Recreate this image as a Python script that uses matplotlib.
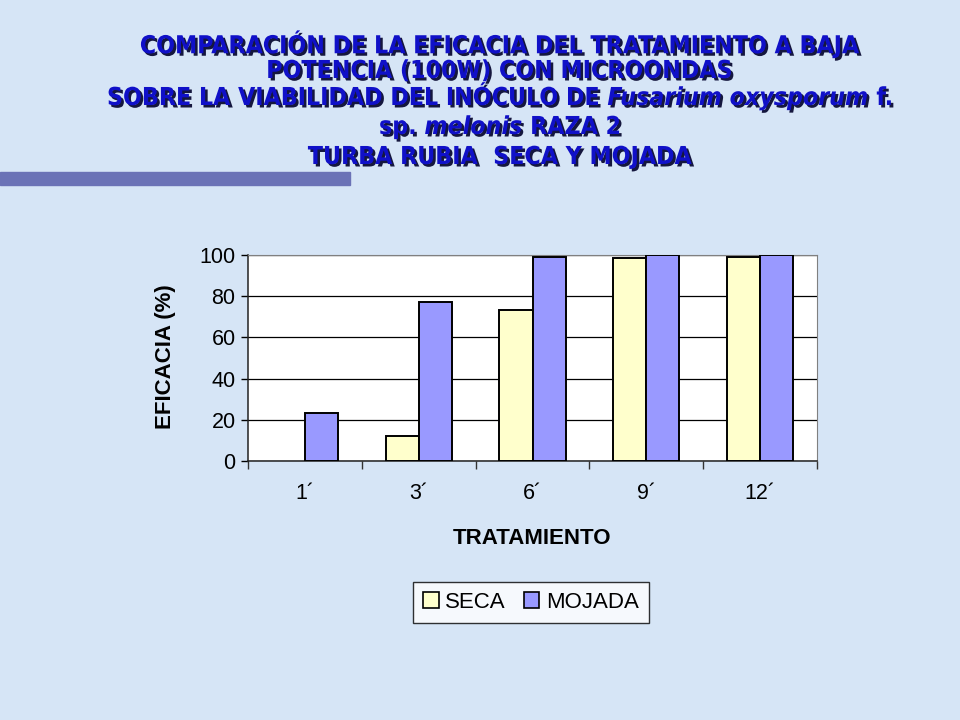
import matplotlib
matplotlib.use("Agg")
import matplotlib.pyplot as plt
import matplotlib.patheffects as pe
from matplotlib.patches import Rectangle, Patch
import numpy as np

# ----------------------------------------------------------------------
# Data
# ----------------------------------------------------------------------
categories = ["1´", "3´", "6´", "9´", "12´"]
seca = [0, 12, 73.5, 98.5, 99]
mojada = [23.5, 77, 99, 100, 100]
series_names = ["SECA", "MOJADA"]

title_lines = [
    [("COMPARACIÓN DE LA EFICACIA DEL TRATAMIENTO A BAJA", "normal")],
    [("POTENCIA (100W) CON MICROONDAS", "normal")],
    [("SOBRE LA VIABILIDAD DEL INÓCULO DE ", "normal"),
     ("Fusarium oxysporum", "italic"), (" f.", "normal")],
    [("sp. ", "normal"), ("melonis", "italic"), (" RAZA 2", "normal")],
    [("TURBA RUBIA  SECA Y MOJADA", "normal")],
]

BG = "#D6E5F6"
TITLE_BLUE = "#1010C8"
SECA_COLOR = "#FFFFCC"
MOJADA_COLOR = "#9999FF"

W, H = 960, 720
fig = plt.figure(figsize=(9.6, 7.2), dpi=100, facecolor=BG)

# dark band under the title
fig.patches.append(Rectangle((0, 1 - 185 / H), 350 / W, 13 / H,
                             transform=fig.transFigure, color="#6B72B6", zorder=0))

# ----------------------------------------------------------------------
# Title, drawn segment by segment so italics can sit inside a line
# ----------------------------------------------------------------------
renderer = fig.canvas.get_renderer()
title_font = dict(family="DejaVu Sans", weight="bold", size=17.8,
                  fontstretch="condensed", color=TITLE_BLUE)
shadow = [pe.withSimplePatchShadow(offset=(1.8, -1.8), shadow_rgbFace="#00002A", alpha=0.9)]
line_y = [44, 71, 98, 127, 157]
center_x = 500

for segs, yc in zip(title_lines, line_y):
    texts = []
    for s, style in segs:
        t = fig.text(0, 1 - yc / H, s, va="center", ha="left", style=style,
                     path_effects=shadow, **title_font)
        texts.append(t)
    widths = [t.get_window_extent(renderer).width for t in texts]
    x = center_x - sum(widths) / 2
    for t, w in zip(texts, widths):
        t.set_x(x / W)
        x += w

# ----------------------------------------------------------------------
# Chart
# ----------------------------------------------------------------------
ax = fig.add_axes([248 / W, 1 - 461 / H, (817 - 248) / W, (461 - 255) / H])
ax.set_facecolor("white")

x = np.arange(len(categories))
bw = 0.29
b1 = ax.bar(x - bw / 2, seca, bw, color=SECA_COLOR, edgecolor="black", linewidth=1.4,
            zorder=3)
b2 = ax.bar(x + bw / 2, mojada, bw, color=MOJADA_COLOR, edgecolor="black", linewidth=1.4,
            zorder=3)
# zero-height bars leave no trace in the original
for p in list(b1) + list(b2):
    if p.get_height() == 0:
        p.set_visible(False)

ax.set_xlim(-0.5, len(categories) - 0.5)
ax.set_ylim(0, 100)
ax.set_yticks(range(0, 101, 20))
ax.yaxis.grid(True, color="black", linewidth=0.9, zorder=1)

ax.set_xticks(x)
ax.set_xticklabels(categories)
ax.set_xticks(np.arange(-0.5, len(categories), 1.0), minor=True)
ax.tick_params(axis="x", which="major", length=0, pad=16)
ax.tick_params(axis="x", which="minor", length=6, width=1, color="#333333")
ax.tick_params(axis="y", length=5, width=1, pad=4)

for spine in ["top", "right"]:
    ax.spines[spine].set_color("#808080")
for spine in ["left", "bottom"]:
    ax.spines[spine].set_color("#222222")
    ax.spines[spine].set_linewidth(1.1)

for lab in ax.get_xticklabels() + ax.get_yticklabels():
    lab.set_family("Liberation Sans")
    lab.set_fontsize(15.5)

fig.text(532 / W, 1 - 538 / H, "TRATAMIENTO", ha="center", va="center",
         family="Liberation Sans", weight="bold", size=16)
fig.text(166 / W, 1 - 357 / H, "EFICACIA (%)", ha="center", va="center",
         rotation=90, family="Liberation Sans", weight="bold", size=16)

handles = [Patch(facecolor=SECA_COLOR, edgecolor="black", linewidth=1.2),
           Patch(facecolor=MOJADA_COLOR, edgecolor="black", linewidth=1.2)]
leg = fig.legend(handles, series_names, loc="center",
                 bbox_to_anchor=(531 / W, 1 - 602 / H), ncol=2,
                 prop=dict(family="Liberation Sans", size=16),
                 frameon=True, fancybox=False, edgecolor="black",
                 handlelength=0.7, handleheight=0.7, handletextpad=0.3,
                 columnspacing=0.8, borderpad=0.45)
leg.get_frame().set_linewidth(1.0)

fig.savefig("out.png", dpi=100, facecolor=BG)
